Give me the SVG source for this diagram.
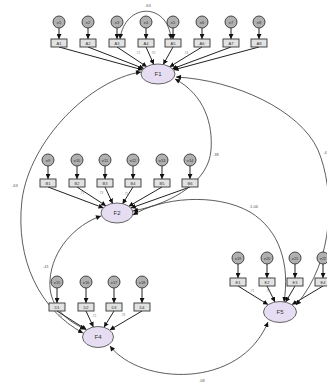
<svg xmlns="http://www.w3.org/2000/svg" width="327" height="387" viewBox="0 0 327 387">
<defs>
<marker id="ah" markerUnits="userSpaceOnUse" markerWidth="6" markerHeight="5" refX="5" refY="2.5" orient="auto"><path d="M0,0 L5,2.5 L0,5 z" fill="#111"/></marker>
<marker id="as" markerUnits="userSpaceOnUse" markerWidth="6" markerHeight="5" refX="0" refY="2.5" orient="auto"><path d="M5,0 L0,2.5 L5,5 z" fill="#111"/></marker>
<style>
.err circle{fill:#b0b0b0;stroke:#333;stroke-width:0.9}
.obs rect{fill:#e2e2e2;stroke:#333;stroke-width:0.9}
.lat ellipse{fill:#e6ddf2;stroke:#555;stroke-width:0.9}
text{font-family:"Liberation Sans",Arial,sans-serif;fill:#333;text-anchor:middle}
.t{font-size:4px}
.f{font-size:6px}
.c{font-size:4px;fill:#555}
.ld{font-size:3px;fill:#777}
#connectors path,#connectors line{fill:none;stroke:#333;stroke-width:0.8}
#connectors .ld2 line{stroke:#222;stroke-width:1}
</style>
</defs>
<rect width="327" height="387" fill="#fff"/>
<g id="connectors">
<g class="ld2">
<line x1="59" y1="28" x2="59" y2="39" marker-end="url(#ah)"/>
<line x1="88" y1="28" x2="88" y2="39" marker-end="url(#ah)"/>
<line x1="117" y1="28" x2="117" y2="39" marker-end="url(#ah)"/>
<line x1="146" y1="28" x2="146" y2="39" marker-end="url(#ah)"/>
<line x1="173" y1="28" x2="173" y2="39" marker-end="url(#ah)"/>
<line x1="202" y1="28" x2="202" y2="39" marker-end="url(#ah)"/>
<line x1="231" y1="28" x2="231" y2="39" marker-end="url(#ah)"/>
<line x1="259" y1="28" x2="259" y2="39" marker-end="url(#ah)"/>
<line x1="48" y1="166" x2="48" y2="179" marker-end="url(#ah)"/>
<line x1="77" y1="166" x2="77" y2="179" marker-end="url(#ah)"/>
<line x1="105" y1="166" x2="105" y2="179" marker-end="url(#ah)"/>
<line x1="133" y1="166" x2="133" y2="179" marker-end="url(#ah)"/>
<line x1="162" y1="166" x2="162" y2="179" marker-end="url(#ah)"/>
<line x1="190" y1="166" x2="190" y2="179" marker-end="url(#ah)"/>
<line x1="57" y1="288" x2="57" y2="303" marker-end="url(#ah)"/>
<line x1="86" y1="288" x2="86" y2="303" marker-end="url(#ah)"/>
<line x1="114" y1="288" x2="114" y2="303" marker-end="url(#ah)"/>
<line x1="142" y1="288" x2="142" y2="303" marker-end="url(#ah)"/>
<line x1="238" y1="264" x2="238" y2="278" marker-end="url(#ah)"/>
<line x1="267" y1="264" x2="267" y2="278" marker-end="url(#ah)"/>
<line x1="295" y1="264" x2="295" y2="278" marker-end="url(#ah)"/>
<line x1="323" y1="264" x2="323" y2="278" marker-end="url(#ah)"/>
<line x1="59" y1="47" x2="142.6" y2="69.9" marker-end="url(#ah)"/>
<line x1="88" y1="47" x2="143.9" y2="68.6" marker-end="url(#ah)"/>
<line x1="117" y1="47" x2="146.9" y2="66.8" marker-end="url(#ah)"/>
<line x1="146" y1="47" x2="153.8" y2="64.5" marker-end="url(#ah)"/>
<line x1="173" y1="47" x2="163.2" y2="64.6" marker-end="url(#ah)"/>
<line x1="202" y1="47" x2="169.5" y2="66.9" marker-end="url(#ah)"/>
<line x1="231" y1="47" x2="172.3" y2="68.8" marker-end="url(#ah)"/>
<line x1="259" y1="47" x2="173.5" y2="69.9" marker-end="url(#ah)"/>
<line x1="48" y1="187" x2="103.5" y2="207.9" marker-end="url(#ah)"/>
<line x1="77" y1="187" x2="106.1" y2="205.9" marker-end="url(#ah)"/>
<line x1="105" y1="187" x2="112.7" y2="203.6" marker-end="url(#ah)"/>
<line x1="133" y1="187" x2="122.5" y2="203.9" marker-end="url(#ah)"/>
<line x1="162" y1="187" x2="128.6" y2="206.4" marker-end="url(#ah)"/>
<line x1="190" y1="187" x2="130.8" y2="208.1" marker-end="url(#ah)"/>
<line x1="57" y1="311" x2="86.6" y2="329.8" marker-end="url(#ah)"/>
<line x1="86" y1="311" x2="93.4" y2="327" marker-end="url(#ah)"/>
<line x1="114" y1="311" x2="104" y2="327.3" marker-end="url(#ah)"/>
<line x1="142" y1="311" x2="109.8" y2="330" marker-end="url(#ah)"/>
<line x1="238" y1="286" x2="268" y2="304.6" marker-end="url(#ah)"/>
<line x1="267" y1="286" x2="275" y2="302" marker-end="url(#ah)"/>
<line x1="295" y1="286" x2="285.6" y2="302.1" marker-end="url(#ah)"/>
<line x1="323" y1="286" x2="292" y2="304.6" marker-end="url(#ah)"/>
</g>
<path d="M120,39 C125,2 168,2 171,39" marker-start="url(#as)" marker-end="url(#ah)"/>
<path d="M175,79 C205,95 213,125 211,150 C209,180 175,203 133,211" marker-start="url(#as)" marker-end="url(#ah)"/>
<path d="M176,77 C235,80 300,110 318,150 C335,190 335,260 296,305" marker-start="url(#as)" marker-end="url(#ah)"/>
<path d="M141,72 C90,80 30,140 22,200 C15,260 40,310 83,333" marker-start="url(#as)" marker-end="url(#ah)"/>
<path d="M101,216 C75,225 52,250 50,280 C48,305 65,320 85,329" marker-start="url(#as)" marker-end="url(#ah)"/>
<path d="M133,215 C160,198 215,192 250,212 C280,230 290,265 284,302" marker-start="url(#as)" marker-end="url(#ah)"/>
<path d="M110,346 C140,385 240,390 268,322" marker-start="url(#as)" marker-end="url(#ah)"/>
</g>
<g id="labels">
<text class="c" x="148" y="7">.63</text>
<text class="c" x="216" y="156">.38</text>
<text class="c" x="325" y="154">.4</text>
<text class="c" x="15" y="187">.63</text>
<text class="c" x="46" y="268">.41</text>
<text class="c" x="254" y="208">1.06</text>
<text class="c" x="202" y="382">.08</text>
<text class="ld" x="138" y="54">.72</text>
<text class="ld" x="153" y="54">.70</text>
<text class="ld" x="186" y="54">.74</text>
<text class="ld" x="82" y="194">.71</text>
<text class="ld" x="101" y="194">.73</text>
<text class="ld" x="126" y="195">.75</text>
<text class="ld" x="60" y="317">.70</text>
<text class="ld" x="94" y="317">.72</text>
<text class="ld" x="123" y="316">.76</text>
<text class="ld" x="252" y="292">.71</text>
<text class="ld" x="268" y="292">.74</text>
</g>
<g id="e1" class="err"><circle cx="59" cy="22" r="6"/><text class="t" x="59" y="23.5">e1</text></g>
<g id="e2" class="err"><circle cx="88" cy="22" r="6"/><text class="t" x="88" y="23.5">e2</text></g>
<g id="e3" class="err"><circle cx="117" cy="22" r="6"/><text class="t" x="117" y="23.5">e3</text></g>
<g id="e4" class="err"><circle cx="146" cy="22" r="6"/><text class="t" x="146" y="23.5">e4</text></g>
<g id="e5" class="err"><circle cx="173" cy="22" r="6"/><text class="t" x="173" y="23.5">e5</text></g>
<g id="e6" class="err"><circle cx="202" cy="22" r="6"/><text class="t" x="202" y="23.5">e6</text></g>
<g id="e7" class="err"><circle cx="231" cy="22" r="6"/><text class="t" x="231" y="23.5">e7</text></g>
<g id="e8" class="err"><circle cx="259" cy="22" r="6"/><text class="t" x="259" y="23.5">e8</text></g>
<g id="e9" class="err"><circle cx="48" cy="160" r="6"/><text class="t" x="48" y="161.5">e9</text></g>
<g id="e10" class="err"><circle cx="77" cy="160" r="6"/><text class="t" x="77" y="161.5">e10</text></g>
<g id="e11" class="err"><circle cx="105" cy="160" r="6"/><text class="t" x="105" y="161.5">e11</text></g>
<g id="e12" class="err"><circle cx="133" cy="160" r="6"/><text class="t" x="133" y="161.5">e12</text></g>
<g id="e13" class="err"><circle cx="162" cy="160" r="6"/><text class="t" x="162" y="161.5">e13</text></g>
<g id="e14" class="err"><circle cx="190" cy="160" r="6"/><text class="t" x="190" y="161.5">e14</text></g>
<g id="e15" class="err"><circle cx="57" cy="282" r="6"/><text class="t" x="57" y="283.5">e15</text></g>
<g id="e16" class="err"><circle cx="86" cy="282" r="6"/><text class="t" x="86" y="283.5">e16</text></g>
<g id="e17" class="err"><circle cx="114" cy="282" r="6"/><text class="t" x="114" y="283.5">e17</text></g>
<g id="e18" class="err"><circle cx="142" cy="282" r="6"/><text class="t" x="142" y="283.5">e18</text></g>
<g id="e19" class="err"><circle cx="238" cy="258" r="6"/><text class="t" x="238" y="259.5">e19</text></g>
<g id="e20" class="err"><circle cx="267" cy="258" r="6"/><text class="t" x="267" y="259.5">e20</text></g>
<g id="e21" class="err"><circle cx="295" cy="258" r="6"/><text class="t" x="295" y="259.5">e21</text></g>
<g id="e22" class="err"><circle cx="323" cy="258" r="6"/><text class="t" x="323" y="259.5">e22</text></g>
<g id="a1" class="obs"><rect x="51" y="39" width="16" height="8"/><text class="t" x="59" y="44.5">A1</text></g>
<g id="a2" class="obs"><rect x="80" y="39" width="16" height="8"/><text class="t" x="88" y="44.5">A2</text></g>
<g id="a3" class="obs"><rect x="109" y="39" width="16" height="8"/><text class="t" x="117" y="44.5">A3</text></g>
<g id="a4" class="obs"><rect x="138" y="39" width="16" height="8"/><text class="t" x="146" y="44.5">A4</text></g>
<g id="a5" class="obs"><rect x="165" y="39" width="16" height="8"/><text class="t" x="173" y="44.5">A5</text></g>
<g id="a6" class="obs"><rect x="194" y="39" width="16" height="8"/><text class="t" x="202" y="44.5">A6</text></g>
<g id="a7" class="obs"><rect x="223" y="39" width="16" height="8"/><text class="t" x="231" y="44.5">A7</text></g>
<g id="a8" class="obs"><rect x="251" y="39" width="16" height="8"/><text class="t" x="259" y="44.5">A8</text></g>
<g id="b1" class="obs"><rect x="40" y="179" width="16" height="8"/><text class="t" x="48" y="184.5">B1</text></g>
<g id="b2" class="obs"><rect x="69" y="179" width="16" height="8"/><text class="t" x="77" y="184.5">B2</text></g>
<g id="b3" class="obs"><rect x="97" y="179" width="16" height="8"/><text class="t" x="105" y="184.5">B3</text></g>
<g id="b4" class="obs"><rect x="125" y="179" width="16" height="8"/><text class="t" x="133" y="184.5">B4</text></g>
<g id="b5" class="obs"><rect x="154" y="179" width="16" height="8"/><text class="t" x="162" y="184.5">B5</text></g>
<g id="b6" class="obs"><rect x="182" y="179" width="16" height="8"/><text class="t" x="190" y="184.5">B6</text></g>
<g id="d1" class="obs"><rect x="49" y="303" width="16" height="8"/><text class="t" x="57" y="308.5">D1</text></g>
<g id="d2" class="obs"><rect x="78" y="303" width="16" height="8"/><text class="t" x="86" y="308.5">D2</text></g>
<g id="d3" class="obs"><rect x="106" y="303" width="16" height="8"/><text class="t" x="114" y="308.5">D3</text></g>
<g id="d4" class="obs"><rect x="134" y="303" width="16" height="8"/><text class="t" x="142" y="308.5">D4</text></g>
<g id="g1" class="obs"><rect x="230" y="278" width="16" height="8"/><text class="t" x="238" y="283.5">E1</text></g>
<g id="g2" class="obs"><rect x="259" y="278" width="16" height="8"/><text class="t" x="267" y="283.5">E2</text></g>
<g id="g3" class="obs"><rect x="287" y="278" width="16" height="8"/><text class="t" x="295" y="283.5">E3</text></g>
<g id="g4" class="obs"><rect x="315" y="278" width="16" height="8"/><text class="t" x="323" y="283.5">E4</text></g>
<g id="F1" class="lat"><ellipse cx="158" cy="74" rx="17" ry="10"/><text class="f" x="158" y="76">F1</text></g>
<g id="F2" class="lat"><ellipse cx="117" cy="213" rx="16" ry="10"/><text class="f" x="117" y="215">F2</text></g>
<g id="F4" class="lat"><ellipse cx="98" cy="337" rx="15.5" ry="10.5"/><text class="f" x="98" y="339">F4</text></g>
<g id="F5" class="lat"><ellipse cx="280" cy="312" rx="16.5" ry="10.5"/><text class="f" x="280" y="314">F5</text></g>
</svg>
